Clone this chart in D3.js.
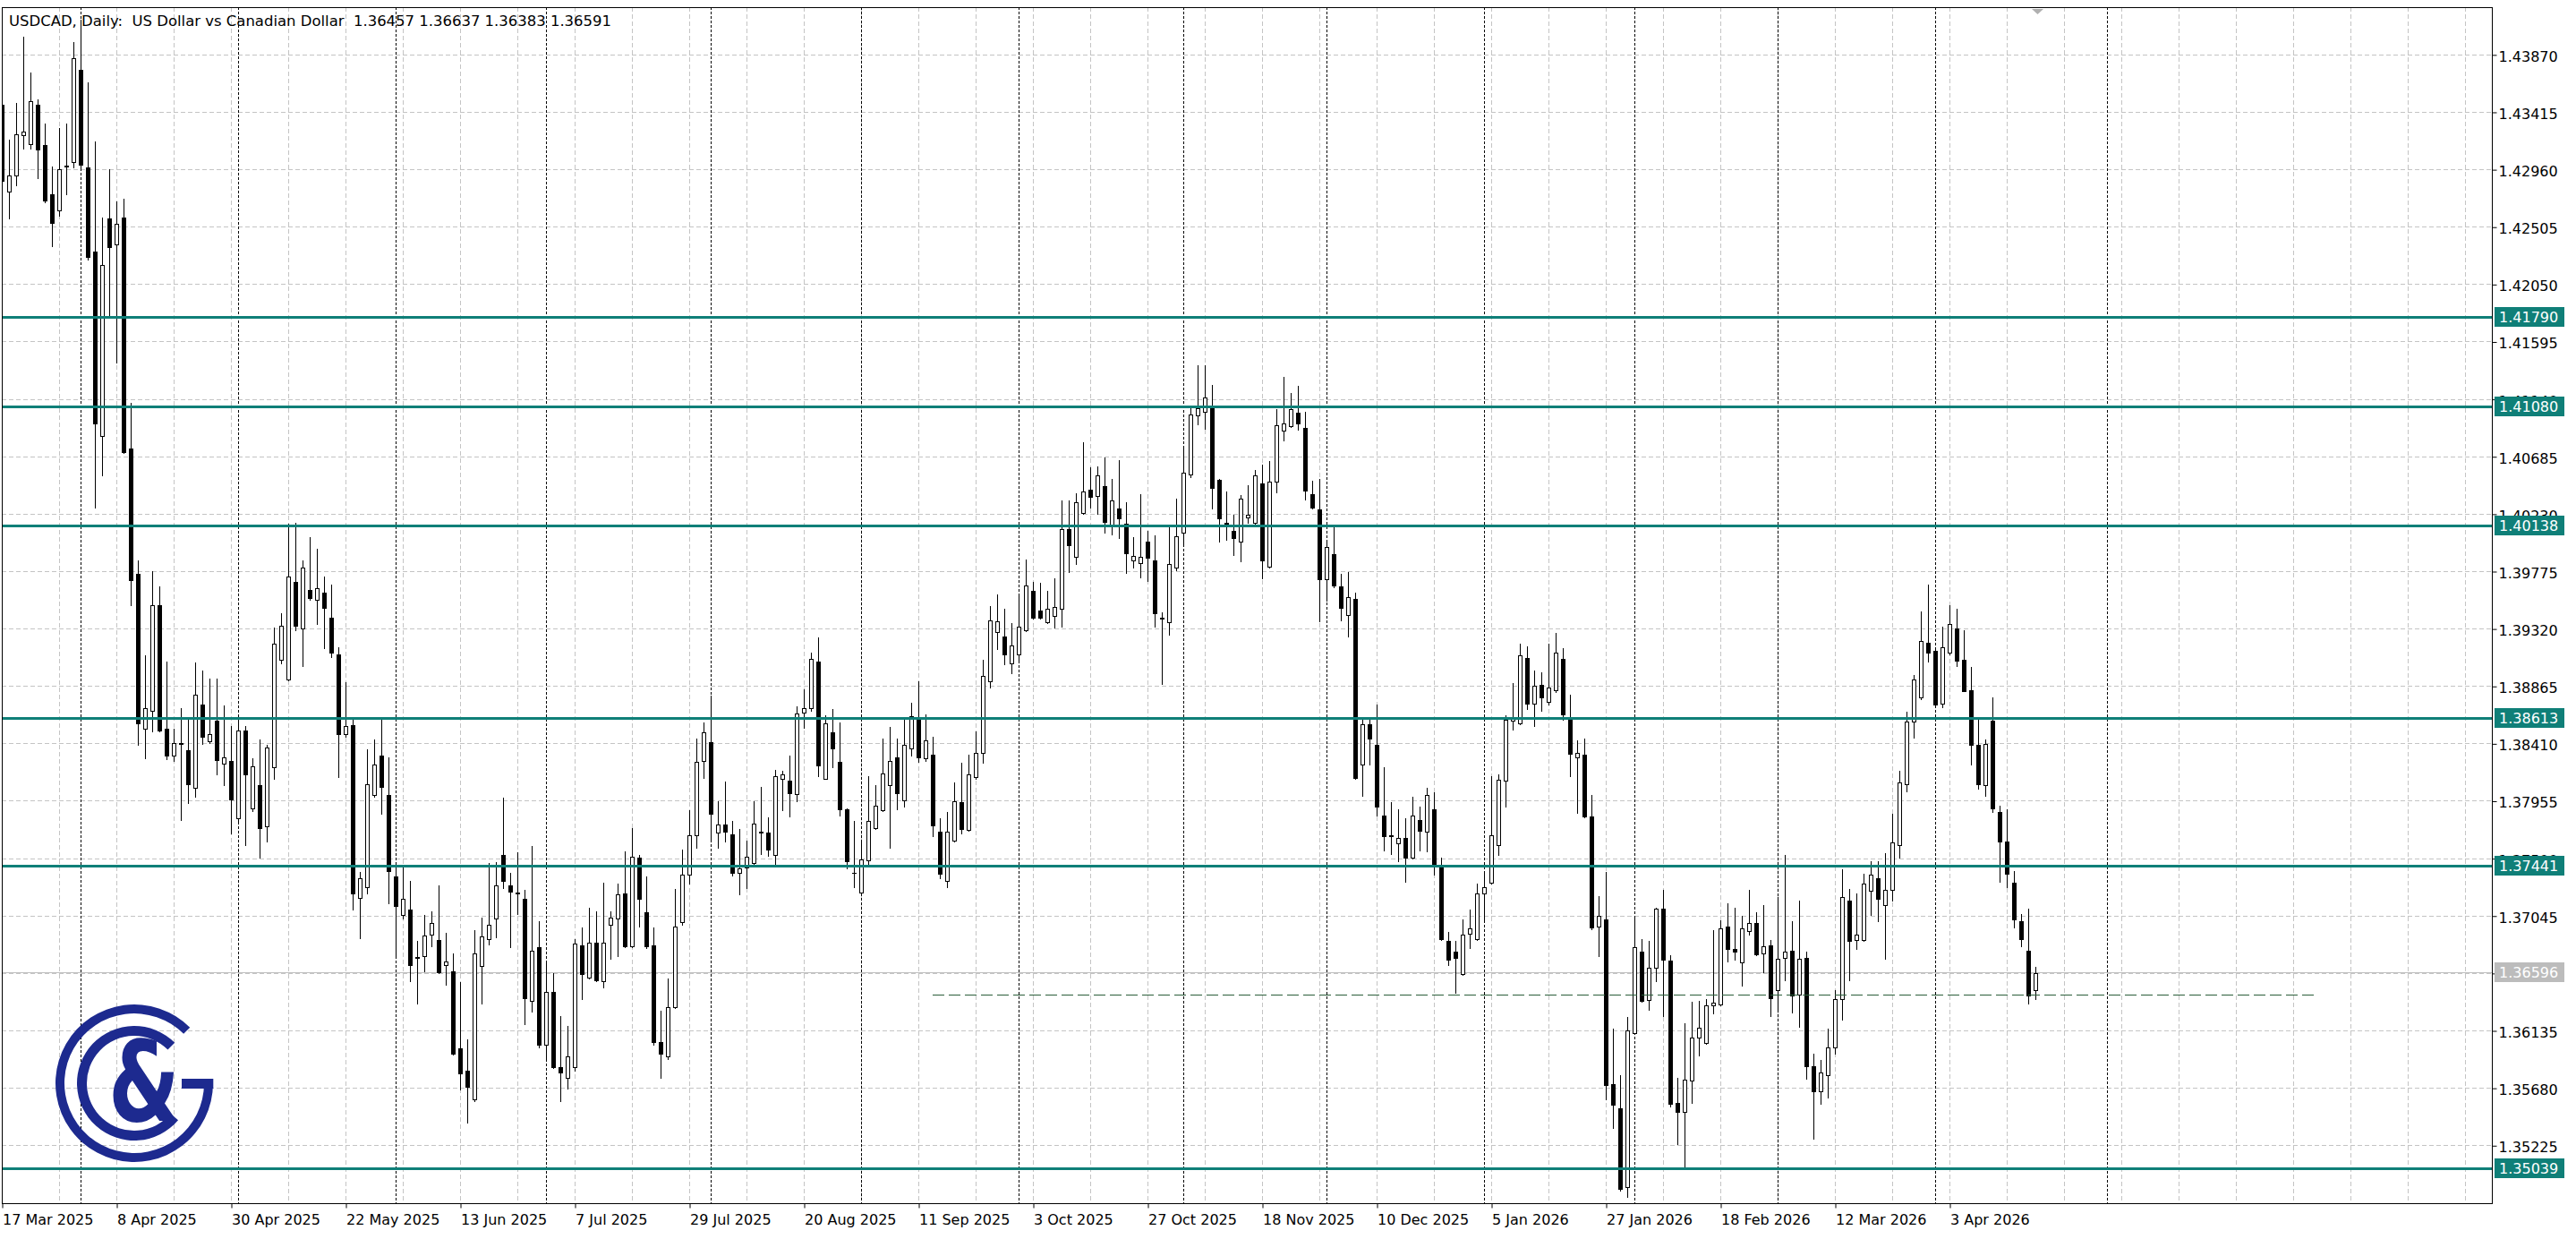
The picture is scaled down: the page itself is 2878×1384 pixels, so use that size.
<!DOCTYPE html>
<html><head><meta charset="utf-8">
<script src="https://cdn.jsdelivr.net/npm/d3@7/dist/d3.min.js"></script>
<style>html,body{margin:0;padding:0;background:#fff;overflow:hidden}svg{display:block}</style>
</head><body>
<svg id="c" width="2878" height="1384"></svg>
<script>
// ---------------- DATA ----------------
const titleText = "USDCAD, Daily:  US Dollar vs Canadian Dollar  1.36457 1.36637 1.36383 1.36591";
const open = [
1.43471,1.42783,1.42912,1.43230,1.43162,1.43471,1.43153,1.42762,1.42633,1.42981,
1.43020,1.43751,1.42977,1.42311,1.40849,1.42568,1.42366,1.42581,1.40750,1.39753,
1.38528,1.38665,1.39503,1.38528,1.38313,1.38416,1.38356,1.38055,1.38721,1.38429,
1.38588,1.38248,1.38270,1.37818,1.38515,1.37896,1.38076,1.37754,1.38218,1.39074,
1.38915,1.39688,1.39323,1.39624,1.39546,1.39602,1.39409,1.39117,1.38485,1.38553,
1.37188,1.37270,1.37998,1.38315,1.37998,1.37355,1.37048,1.37093,1.36716,1.36722,
1.36896,1.36849,1.36652,1.36605,1.35993,1.35819,1.35591,1.36649,1.36858,1.37023,
1.37523,1.37286,1.37229,1.37175,1.36367,1.36792,1.36019,1.36437,1.35841,1.35762,
1.35841,1.36808,1.36557,1.36833,1.36526,1.36975,1.37023,1.37219,1.36801,1.37504,
1.37070,1.36808,1.36041,1.35930,1.36320,1.36991,1.37371,1.37682,1.38268,1.38423,
1.37703,1.37767,1.37691,1.37384,1.37425,1.37463,1.37711,1.37703,1.37526,1.38126,
1.38114,1.38005,1.38654,1.38689,1.39059,1.38132,1.38501,1.38266,1.37891,1.37386,
1.37227,1.37480,1.37739,1.37878,1.38081,1.38296,1.37957,1.38367,1.38613,1.38291,
1.38317,1.37713,1.37323,1.37637,1.37942,1.37721,1.38144,1.38337,1.38899,1.39292,
1.39254,1.39046,1.39115,1.39305,1.39622,1.39462,1.39368,1.39419,1.39480,1.40107,
1.39887,1.40233,1.40423,1.40372,1.40447,1.40131,1.40270,1.40152,1.39863,1.39836,
1.40006,1.39863,1.39408,1.39371,1.39802,1.40080,1.40538,1.41007,1.41041,1.41068,
1.40498,1.40158,1.40097,1.40006,1.40202,1.40158,1.40471,1.39809,1.40481,1.40888,
1.40922,1.41031,1.40912,1.40386,1.40267,1.39710,1.39911,1.39656,1.39429,1.39554,
1.38241,1.38563,1.38400,1.37840,1.37684,1.37620,1.37660,1.37506,1.37805,1.37712,
1.37891,1.37437,1.36845,1.36760,1.36584,1.36904,1.36859,1.37220,1.37306,1.37602,
1.38118,1.38589,1.38572,1.39088,1.38727,1.38874,1.38737,1.38830,1.39081,1.38606,
1.38297,1.38321,1.37830,1.36956,1.37014,1.35707,1.35518,1.34892,1.36113,1.36756,
1.36378,1.36629,1.37100,1.36691,1.35563,1.35487,1.35735,1.36079,1.36037,1.36337,
1.36343,1.36956,1.36784,1.36673,1.36921,1.36984,1.36743,1.36806,1.36457,1.36710,
1.36768,1.36421,1.36712,1.35850,1.35650,1.35780,1.36000,1.36381,1.37166,1.36849,
1.36852,1.37245,1.37343,1.37131,1.37250,1.37604,1.38086,1.38585,1.38775,1.39206,
1.39145,1.38724,1.39132,1.39322,1.39074,1.38833,1.38395,1.38078,1.38593,1.37863,
1.37635,1.37308,1.37004,1.36768,1.36457];
const high = [
1.43514,1.43192,1.43484,1.44009,1.43729,1.43514,1.43321,1.42985,1.43286,1.43321,
1.43966,1.44146,1.43652,1.43183,1.42581,1.42964,1.42706,1.42728,1.41107,1.39860,
1.39108,1.39774,1.39654,1.39056,1.38528,1.38691,1.38601,1.39052,1.38988,1.38923,
1.38923,1.38712,1.38549,1.38601,1.38549,1.38291,1.38442,1.38399,1.39331,1.39443,
1.40148,1.40161,1.39860,1.40045,1.39955,1.39731,1.39667,1.39172,1.38893,1.38607,
1.37394,1.38360,1.38442,1.38607,1.38296,1.37450,1.37441,1.37317,1.36842,1.37048,
1.37077,1.37286,1.36906,1.36747,1.36516,1.36066,1.36928,1.37032,1.37460,1.37466,
1.37983,1.37381,1.37546,1.37251,1.37599,1.37001,1.36668,1.36586,1.36247,1.36168,
1.36858,1.36953,1.37108,1.37080,1.37308,1.37080,1.37302,1.37555,1.37742,1.37523,
1.37355,1.36953,1.36288,1.36548,1.37254,1.37571,1.37884,1.38448,1.38575,1.38790,
1.37949,1.38106,1.37797,1.37734,1.37640,1.37954,1.38063,1.37822,1.38197,1.38195,
1.38311,1.38702,1.38836,1.39127,1.39249,1.38633,1.38679,1.38578,1.37896,1.37797,
1.37640,1.38147,1.38081,1.38451,1.38540,1.38448,1.38595,1.38730,1.38899,1.38638,
1.38461,1.37815,1.37868,1.38101,1.38253,1.38317,1.38507,1.39072,1.39500,1.39589,
1.39475,1.39361,1.39576,1.39867,1.39692,1.39680,1.39622,1.39715,1.40335,1.40335,
1.40389,1.40796,1.40600,1.40606,1.40674,1.40504,1.40657,1.40321,1.40046,1.40386,
1.40097,1.40057,1.39446,1.40135,1.40352,1.40759,1.41064,1.41404,1.41404,1.41254,
1.40504,1.40403,1.40219,1.40379,1.40454,1.40576,1.40617,1.40650,1.41058,1.41312,
1.41187,1.41244,1.41041,1.40491,1.40504,1.40023,1.40131,1.39751,1.39768,1.39605,
1.38604,1.38604,1.38716,1.38224,1.37946,1.37891,1.37815,1.37987,1.37908,1.38056,
1.38022,1.37506,1.36914,1.36845,1.37014,1.37093,1.37299,1.37385,1.38152,1.38166,
1.38634,1.38888,1.39201,1.39181,1.38984,1.38974,1.39201,1.39287,1.39163,1.38795,
1.38434,1.38451,1.37998,1.37196,1.37392,1.36147,1.35779,1.36240,1.37035,1.36859,
1.36842,1.37110,1.37248,1.36732,1.35762,1.36192,1.36361,1.36371,1.36381,1.36928,
1.37007,1.37145,1.37110,1.37042,1.37248,1.37072,1.37128,1.36849,1.37194,1.37528,
1.37001,1.37166,1.36756,1.35950,1.35900,1.36150,1.36452,1.37414,1.37255,1.37224,
1.37376,1.37478,1.37478,1.37541,1.37850,1.38195,1.38661,1.38955,1.39454,1.39670,
1.39163,1.39333,1.39505,1.39480,1.39307,1.39016,1.38610,1.38441,1.38778,1.37914,
1.37888,1.37397,1.37060,1.37098,1.36637];
const low = [
1.42826,1.42568,1.42835,1.43127,1.43127,1.42891,1.42697,1.42354,1.42590,1.42762,
1.42977,1.42977,1.42246,1.40277,1.40535,1.41795,1.41429,1.40711,1.39508,1.38399,
1.38291,1.38506,1.38506,1.38283,1.38270,1.37805,1.37934,1.37986,1.38407,1.38412,
1.38162,1.38076,1.37698,1.37797,1.37603,1.37870,1.37505,1.37633,1.38132,1.39043,
1.38906,1.39310,1.39022,1.39551,1.39357,1.39164,1.39095,1.38141,1.38463,1.37096,
1.36865,1.37222,1.37989,1.37853,1.37143,1.36732,1.37023,1.36522,1.36348,1.36605,
1.36801,1.36589,1.36500,1.35946,1.35667,1.35407,1.35575,1.36348,1.36817,1.36874,
1.37260,1.36792,1.37061,1.36184,1.36285,1.36000,1.35914,1.35835,1.35572,1.35677,
1.35813,1.36383,1.36548,1.36525,1.36475,1.36700,1.36722,1.36795,1.36795,1.36960,
1.36785,1.36025,1.35762,1.35905,1.36310,1.36975,1.37302,1.37584,1.38138,1.37632,
1.37582,1.37632,1.37359,1.37214,1.37265,1.37455,1.37536,1.37518,1.37450,1.37881,
1.37830,1.37954,1.38532,1.38666,1.38147,1.38126,1.38223,1.37835,1.37417,1.37273,
1.37207,1.37455,1.37734,1.37873,1.37582,1.37891,1.37911,1.38311,1.38266,1.38273,
1.37675,1.37341,1.37273,1.37632,1.37696,1.37716,1.38126,1.38253,1.38854,1.39158,
1.39039,1.38968,1.39072,1.39300,1.39399,1.39399,1.39361,1.39325,1.39334,1.39768,
1.39829,1.40226,1.40277,1.40226,1.40080,1.40063,1.40040,1.39758,1.39802,1.39727,
1.39700,1.39334,1.38879,1.39269,1.39785,1.39972,1.40521,1.40939,1.40905,1.40270,
1.40012,1.40023,1.39904,1.39853,1.40158,1.40151,1.39717,1.39802,1.40396,1.40813,
1.40915,1.40895,1.40345,1.40270,1.39378,1.39541,1.39650,1.39385,1.39259,1.38132,
1.37997,1.38241,1.37840,1.37562,1.37535,1.37477,1.37310,1.37499,1.37564,1.37557,
1.37368,1.36852,1.36653,1.36433,1.36577,1.36790,1.36852,1.36997,1.37299,1.37523,
1.37912,1.38520,1.38565,1.38682,1.38548,1.38665,1.38716,1.38819,1.38600,1.38152,
1.37860,1.37826,1.36938,1.36722,1.35590,1.35363,1.34865,1.34817,1.36106,1.36364,
1.36295,1.36526,1.36251,1.35535,1.35236,1.35047,1.35563,1.35934,1.36030,1.36268,
1.36337,1.36680,1.36698,1.36491,1.36894,1.36730,1.36599,1.36249,1.36305,1.36533,
1.36274,1.36160,1.35750,1.35280,1.35550,1.35600,1.35950,1.36223,1.36533,1.36781,
1.36845,1.37047,1.37001,1.36700,1.37161,1.37503,1.38028,1.38453,1.38757,1.39056,
1.38702,1.38699,1.39112,1.39023,1.38821,1.38243,1.38048,1.37997,1.37863,1.37313,
1.37270,1.36953,1.36801,1.36350,1.36383];
const close = [
1.42869,1.42912,1.43235,1.43256,1.43501,1.43114,1.42710,1.42538,1.42964,1.42990,
1.43837,1.42998,1.42268,1.40948,1.42203,1.42341,1.42526,1.40720,1.39701,1.38571,
1.38687,1.39508,1.38515,1.38313,1.38412,1.38407,1.38085,1.38794,1.38463,1.38485,
1.38278,1.38300,1.37969,1.38515,1.38162,1.38227,1.37741,1.38377,1.39203,1.39344,
1.39731,1.39344,1.39804,1.39559,1.39637,1.39482,1.39129,1.38485,1.38549,1.37222,
1.37340,1.38084,1.38242,1.38062,1.37397,1.37124,1.37181,1.36652,1.36709,1.36890,
1.36985,1.36595,1.36684,1.35952,1.35794,1.35689,1.36744,1.36880,1.36975,1.37286,
1.37317,1.37238,1.37222,1.36389,1.36770,1.36019,1.36443,1.35841,1.35803,1.35930,
1.36823,1.36579,1.36833,1.36532,1.36833,1.37029,1.37213,1.36801,1.37514,1.37175,
1.36801,1.36041,1.35952,1.36320,1.36960,1.37371,1.37679,1.38265,1.38496,1.37853,
1.37767,1.37713,1.37384,1.37422,1.37513,1.37777,1.37706,1.37569,1.38152,1.38164,
1.38018,1.38646,1.38689,1.39077,1.38235,1.38570,1.38372,1.37891,1.37473,1.37381,
1.37488,1.37797,1.37916,1.38172,1.38273,1.38012,1.38400,1.38626,1.38299,1.38436,
1.37759,1.37374,1.37713,1.37949,1.37734,1.38164,1.38337,1.38942,1.39388,1.39381,
1.39115,1.39186,1.39338,1.39660,1.39406,1.39406,1.39477,1.39490,1.40107,1.39982,
1.40318,1.40403,1.40362,1.40532,1.40165,1.40335,1.40192,1.39914,1.39894,1.39887,
1.39880,1.39439,1.39402,1.39829,1.40050,1.40555,1.41014,1.41064,1.41149,1.40437,
1.40192,1.40141,1.40040,1.40352,1.40223,1.40532,1.39860,1.40481,1.40932,1.40949,
1.41058,1.40946,1.40413,1.40277,1.39710,1.39965,1.39660,1.39486,1.39571,1.38139,
1.38563,1.38445,1.37908,1.37674,1.37677,1.37664,1.37506,1.37839,1.37719,1.37998,
1.37447,1.36859,1.36698,1.36708,1.36894,1.36945,1.37224,1.37272,1.37685,1.38125,
1.38599,1.38606,1.39105,1.38727,1.38864,1.38778,1.38854,1.39132,1.38641,1.38324,
1.38338,1.37832,1.36949,1.37042,1.35700,1.35546,1.34882,1.36137,1.36794,1.36371,
1.36629,1.37100,1.36698,1.35552,1.35487,1.35745,1.36079,1.36158,1.36337,1.36354,
1.36945,1.36784,1.36756,1.36945,1.36983,1.36738,1.36799,1.36393,1.36705,1.36763,
1.36413,1.36705,1.35850,1.35650,1.35800,1.36000,1.36381,1.37194,1.36844,1.36895,
1.37300,1.37371,1.37179,1.37250,1.37622,1.38099,1.38585,1.38917,1.39219,1.39130,
1.38719,1.39170,1.39353,1.39067,1.38826,1.38395,1.38086,1.38403,1.37896,1.37635,
1.37376,1.37017,1.36862,1.36413,1.36591];

const dateLabels = ["17 Mar 2025","8 Apr 2025","30 Apr 2025","22 May 2025","13 Jun 2025","7 Jul 2025",
  "29 Jul 2025","20 Aug 2025","11 Sep 2025","3 Oct 2025","27 Oct 2025","18 Nov 2025","10 Dec 2025",
  "5 Jan 2026","27 Jan 2026","18 Feb 2026","12 Mar 2026","3 Apr 2026"];
const dateLabelBar = [0,16,32,48,64,80,96,112,128,144,160,176,192,208,224,240,256,272];
const monthStartBar = [11,33,55,76,99,120,142,165,185,207,228,248,270,294];
const priceTicks = [1.43870,1.43415,1.42960,1.42505,1.42050,1.41595,1.41140,1.40685,1.40230,1.39775,
  1.39320,1.38865,1.38410,1.37955,1.37500,1.37045,1.36590,1.36135,1.35680,1.35225];
const levels = [1.41790,1.41080,1.40138,1.38613,1.37441,1.35039];
const bidPrice = 1.36596;
const dashLevel = 1.36420, dashFromBar = 130, dashToBar = 323.25;

// ---------------- LAYOUT ----------------
const plotL = 2, plotR = 2784, plotT = 8, plotB = 1344, barStep = 8;
const svg = d3.select("#c");
const x = d3.scaleLinear().domain([0, (plotR - plotL) / barStep]).range([plotL, plotR]);
const y = d3.scaleLinear().domain([1.347657, 1.442449]).range([plotB, plotT]);
const FONT = "'DejaVu Sans', Verdana, sans-serif";
const TEAL = "#0f7f78", NAVY = "#1d2a8f";

svg.append("rect").attr("width", 2878).attr("height", 1384).attr("fill", "#fff");
const defs = svg.append("defs");
defs.append("clipPath").attr("id", "clip").append("rect")
  .attr("x", plotL + 1).attr("y", plotT + 1).attr("width", plotR - plotL - 1).attr("height", plotB - plotT - 1);
const plot = svg.append("g").attr("clip-path", "url(#clip)");

// grid
const gridG = plot.append("g").attr("stroke", "#c4c4c4").attr("stroke-width", 1).attr("stroke-dasharray", "5,3");
priceTicks.forEach(p => {
  const yy = Math.round(y(p)) + 0.5;
  gridG.append("line").attr("x1", plotL).attr("x2", plotR).attr("y1", yy).attr("y2", yy);
});
d3.range(0, (plotR - plotL) / barStep, 8).forEach(b => {
  const xx = Math.round(x(b)) + 0.5;
  gridG.append("line").attr("x1", xx).attr("x2", xx).attr("y1", plotT).attr("y2", plotB);
});
// period separators
const sepG = plot.append("g").attr("stroke", "#000").attr("stroke-width", 1).attr("stroke-dasharray", "3,2");
monthStartBar.forEach(b => {
  const xx = Math.round(x(b)) + 0.5;
  sepG.append("line").attr("x1", xx).attr("x2", xx).attr("y1", plotT).attr("y2", plotB);
});
// bid line
plot.append("line").attr("x1", plotL).attr("x2", plotR)
  .attr("y1", Math.round(y(bidPrice)) + 0.5).attr("y2", Math.round(y(bidPrice)) + 0.5)
  .attr("stroke", "#c0c0c0").attr("stroke-width", 1);

// candles
const bars = open.map((o, i) => ({i, o, h: high[i], l: low[i], c: close[i]}));
const cg = plot.append("g");
bars.forEach(d => {
  const cx = Math.round(x(d.i));
  const yh = Math.round(y(d.h)), yl = Math.round(y(d.l));
  const yo = y(d.o), yc = y(d.c);
  const top = Math.round(Math.min(yo, yc)), bot = Math.round(Math.max(yo, yc));
  cg.append("line").attr("x1", cx + 0.5).attr("x2", cx + 0.5).attr("y1", yh).attr("y2", yl + 1)
    .attr("stroke", "#000").attr("stroke-width", 1);
  if (bot - top < 1) {
    cg.append("line").attr("x1", cx - 2).attr("x2", cx + 3).attr("y1", top + 0.5).attr("y2", top + 0.5)
      .attr("stroke", "#000").attr("stroke-width", 1);
  } else {
    cg.append("rect").attr("x", cx - 1.5).attr("y", top + 0.5).attr("width", 4).attr("height", bot - top)
      .attr("fill", d.c >= d.o ? "#fff" : "#000").attr("stroke", "#000").attr("stroke-width", 1);
  }
});

// level lines
levels.forEach(p => {
  const yy = Math.round(y(p));
  plot.append("rect").attr("x", plotL).attr("width", plotR - plotL).attr("y", yy - 1).attr("height", 3).attr("fill", TEAL);
});
// dashed trend line
plot.append("line").attr("x1", x(dashFromBar)).attr("x2", x(dashToBar))
  .attr("y1", Math.round(y(dashLevel)) + 0.5).attr("y2", Math.round(y(dashLevel)) + 0.5)
  .attr("stroke", "#2b5e3a").attr("stroke-width", 1).attr("stroke-dasharray", "13,5");

// logo
const lg = svg.append("g").attr("fill", NAVY);
const cx0 = 150, cy0 = 1210;
lg.append("path").attr("transform", `translate(${cx0},${cy0})`)
  .attr("d", d3.arc().innerRadius(78).outerRadius(88).startAngle(-1.5 * Math.PI).endAngle(Math.PI / 4)());
lg.append("rect").attr("x", 203).attr("y", 1205).attr("width", 35.3).attr("height", 11);
lg.append("path").attr("transform", `translate(${cx0},${cy0})`)
  .attr("d", d3.arc().innerRadius(53).outerRadius(64).startAngle(-230 * Math.PI / 180).endAngle(Math.PI / 4)());
lg.append("text").attr("x", 0).attr("y", 0)
  .attr("transform", "translate(121,1252) scale(0.74,1)")
  .attr("font-family", FONT).attr("font-weight", "bold").attr("font-size", 124).text("&");

// frame
svg.append("rect").attr("x", plotL + 0.5).attr("y", plotT + 0.5).attr("width", plotR - plotL).attr("height", plotB - plotT)
  .attr("fill", "none").attr("stroke", "#000").attr("stroke-width", 1);

// shift marker
svg.append("path").attr("d", "M2270,10 L2283,10 L2276.5,16 Z").attr("fill", "#b0b0b0");

// right axis
const yAxis = d3.axisRight(y).tickValues(priceTicks).tickFormat(d3.format(".5f")).tickSize(5).tickPadding(2);
const ya = svg.append("g").attr("transform", `translate(${plotR + 0.5},0.5)`).call(yAxis);
ya.select(".domain").remove();
ya.selectAll("text").attr("font-family", FONT).attr("font-size", 16).attr("fill", "#000").attr("dy", null).attr("y", 7);
ya.selectAll("line").attr("stroke", "#000");

// level labels
const boxes = svg.append("g");
levels.concat([bidPrice]).forEach((p, k) => {
  const yy = Math.round(y(p));
  boxes.append("rect").attr("x", 2787).attr("y", yy - 11).attr("width", 78).attr("height", 22)
    .attr("fill", k < levels.length ? TEAL : "#bcbcbc");
  boxes.append("text").attr("x", 2792).attr("y", yy + 6).attr("font-family", FONT).attr("font-size", 16)
    .attr("fill", "#fff").text(d3.format(".5f")(p));
});

// bottom axis
const xAxis = d3.axisBottom(x).tickValues(dateLabelBar).tickFormat((d, i) => dateLabels[i]).tickSize(5);
const xa = svg.append("g").attr("transform", `translate(0.5,${plotB + 0.5})`).call(xAxis);
xa.select(".domain").remove();
xa.selectAll("text").attr("font-family", FONT).attr("font-size", 16).attr("fill", "#000")
  .attr("text-anchor", "start").attr("dy", null).attr("y", 23);
xa.selectAll("line").attr("stroke", "#000");

// title
svg.append("text").attr("x", 10).attr("y", 29).attr("font-family", FONT).attr("font-size", 16)
  .attr("fill", "#000").attr("textLength", 673).attr("lengthAdjust", "spacingAndGlyphs")
  .style("white-space", "pre").text(titleText);
</script>
</body></html>
